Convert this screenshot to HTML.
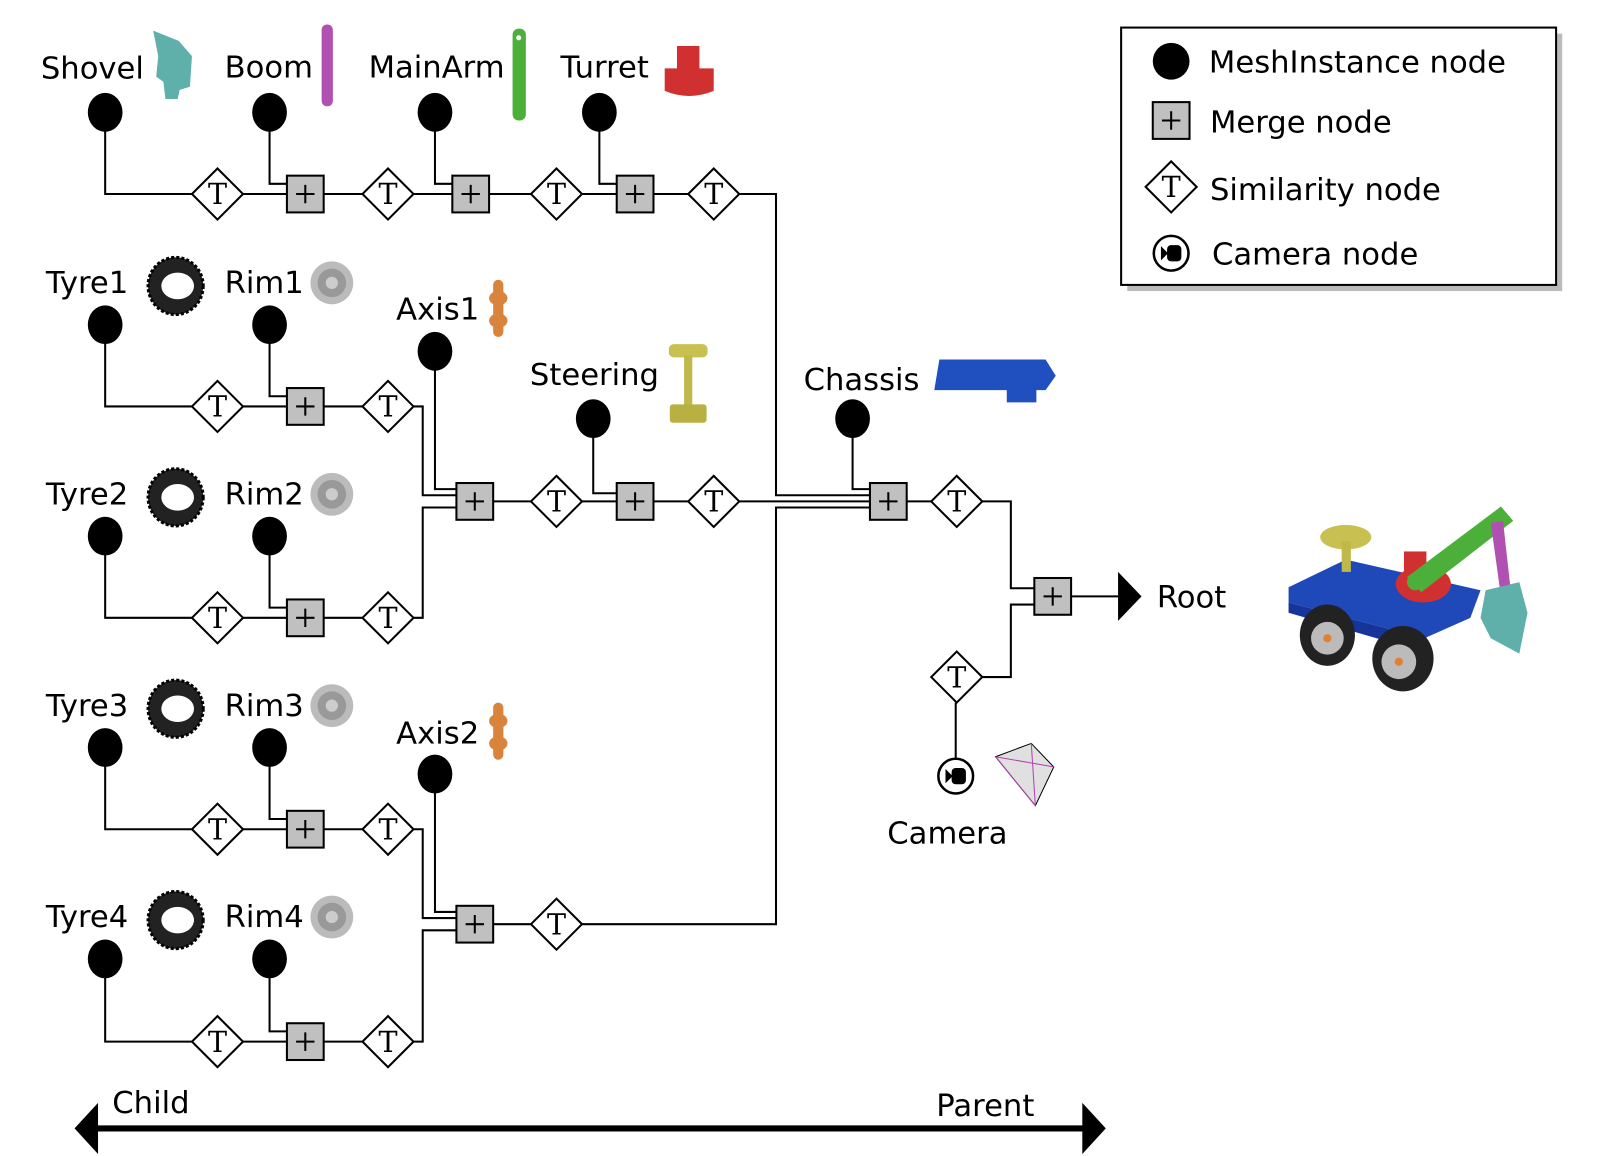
<!DOCTYPE html>
<html><head><meta charset="utf-8"><style>
html,body{margin:0;padding:0;background:#fff;}
svg{display:block;}
.l{fill:none;stroke:#000;stroke-width:2;}
.lab{font-family:"DejaVu Sans","Liberation Sans",sans-serif;font-size:30px;fill:#000;}
.tt{font-family:"DejaVu Serif","Liberation Serif",serif;font-size:28px;text-anchor:middle;}
</style></head><body>
<svg width="1600" height="1156" viewBox="0 0 1567 1132" preserveAspectRatio="none" xmlns="http://www.w3.org/2000/svg">
<defs>
<g id="T"><polygon points="-25,0 0,-25 25,0 0,25" fill="#fff" stroke="#000" stroke-width="2"/><text class="tt" x="0" y="10">T</text></g>
<g id="M"><rect x="-18" y="-18" width="36" height="36" fill="#c0c0c0" stroke="#000" stroke-width="2"/><path d="M-9,0H9M0,-9V9" stroke="#000" stroke-width="2"/></g>
<g id="C"><ellipse cx="0" cy="0" rx="17" ry="19" fill="#000"/></g>
<g id="tyre"><ellipse cx="0" cy="0" rx="27" ry="28" fill="#222" stroke="#000" stroke-width="3" stroke-dasharray="3 2"/><ellipse cx="2" cy="0" rx="16" ry="13" fill="#fff"/></g>
<g id="rim"><circle r="21" fill="#bbb"/><circle r="14" fill="#999"/><circle r="6" fill="#ccc"/></g>
<g id="axis"><rect x="-5" y="-28" width="10" height="56" rx="5" fill="#d9843c"/><ellipse cx="0" cy="-10" rx="9" ry="7" fill="#d9843c"/><ellipse cx="0" cy="12" rx="9" ry="7" fill="#d9843c"/></g>
</defs>
<path class="l" d="M103,110V190H188M238,190H281M264,110V180H281M317,190H355M405,190H443M426,110V180H443M479,190H520M570,190H604M587,110V180H604M640,190H674M724,190H760V485H852"/>
<path class="l" d="M103,318V398H188M238,398H281M264,318V388H281M317,398H355M405,398H414V485H447"/>
<path class="l" d="M103,525V605H188M238,605H281M264,525V595H281M317,605H355M405,605H414V497H447"/>
<path class="l" d="M426,344V479H447M483,491H520M570,491H604M581,410V483H604M640,491H674M724,491H852M835,410V479H852M570,905H760V497H852"/>
<path class="l" d="M103,732V812H188M238,812H281M264,732V802H281M317,812H355M405,812H414V899H447"/>
<path class="l" d="M103,939V1020H188M238,1020H281M264,939V1010H281M317,1020H355M405,1020H414V911H447M426,758V893H447M483,905H520"/>
<path class="l" d="M888,491H912M962,491H990V576H1013M962,663H990V592H1013M936,688V742M1049,584H1095"/>
<polygon points="1095,560 1118,584 1095,608" fill="#000"/>
<use href="#C" x="103" y="110"/><use href="#C" x="264" y="110"/><use href="#C" x="426" y="110"/><use href="#C" x="587" y="110"/>
<use href="#C" x="103" y="318"/><use href="#C" x="264" y="318"/><use href="#C" x="426" y="344"/>
<use href="#C" x="103" y="525"/><use href="#C" x="264" y="525"/>
<use href="#C" x="581" y="410"/><use href="#C" x="835" y="410"/>
<use href="#C" x="103" y="732"/><use href="#C" x="264" y="732"/><use href="#C" x="426" y="758"/>
<use href="#C" x="103" y="939"/><use href="#C" x="264" y="939"/>
<use href="#T" x="213" y="190"/><use href="#T" x="380" y="190"/><use href="#T" x="545" y="190"/><use href="#T" x="699" y="190"/>
<use href="#T" x="213" y="398"/><use href="#T" x="380" y="398"/>
<use href="#T" x="213" y="605"/><use href="#T" x="380" y="605"/>
<use href="#T" x="545" y="491"/><use href="#T" x="699" y="491"/><use href="#T" x="937" y="491"/><use href="#T" x="937" y="663"/>
<use href="#T" x="213" y="812"/><use href="#T" x="380" y="812"/>
<use href="#T" x="213" y="1020"/><use href="#T" x="380" y="1020"/><use href="#T" x="545" y="905"/>
<use href="#M" x="299" y="190"/><use href="#M" x="461" y="190"/><use href="#M" x="622" y="190"/>
<use href="#M" x="299" y="398"/><use href="#M" x="299" y="605"/><use href="#M" x="465" y="491"/><use href="#M" x="622" y="491"/>
<use href="#M" x="870" y="491"/><use href="#M" x="1031" y="584"/>
<use href="#M" x="299" y="812"/><use href="#M" x="299" y="1020"/><use href="#M" x="465" y="905"/>
<circle cx="936" cy="760" r="17" fill="#fff" stroke="#000" stroke-width="2.5"/>
<path d="M926,753L933,760L926,767Z" fill="#000"/><rect x="932" y="752" width="14" height="16" rx="4" fill="#000"/>
<polygon points="975,741 1010,728 1032,751 1014,789" fill="#e0e0e0" stroke="#000" stroke-width="1"/>
<path d="M975,741L1014,789M1010,728L1014,789M975,741L1032,751" stroke="#b040b0" stroke-width="1" fill="none"/>
<text class="lab" x="40" y="77">Shovel</text><text class="lab" x="220" y="76">Boom</text>
<text class="lab" x="361" y="76">MainArm</text><text class="lab" x="549" y="76">Turret</text>
<text class="lab" x="45" y="287">Tyre1</text><text class="lab" x="220" y="287">Rim1</text><text class="lab" x="388" y="313">Axis1</text>
<text class="lab" x="519" y="377">Steering</text><text class="lab" x="787" y="382">Chassis</text>
<text class="lab" x="45" y="494">Tyre2</text><text class="lab" x="220" y="494">Rim2</text>
<text class="lab" x="45" y="701">Tyre3</text><text class="lab" x="220" y="701">Rim3</text><text class="lab" x="388" y="728">Axis2</text>
<text class="lab" x="45" y="908">Tyre4</text><text class="lab" x="220" y="908">Rim4</text>
<text class="lab" x="1133" y="595">Root</text><text class="lab" x="869" y="826">Camera</text>
<text class="lab" x="110" y="1090">Child</text><text class="lab" x="917" y="1093">Parent</text>
<path d="M150,30 L175,40 L188,55 L186,85 L176,88 L174,97 L162,97 L160,80 L153,75 L155,55 Z" fill="#5fb0aa"/>
<rect x="315" y="24" width="11" height="80" rx="5" fill="#b050b0"/>
<rect x="502" y="28" width="13" height="90" rx="6" fill="#4caf3a"/><circle cx="508" cy="37" r="2.5" fill="#fff"/>
<path d="M663,45h22v22h14v22q-24,10 -48,0v-22h12z" fill="#d03030"/>
<use href="#tyre" x="172" y="280"/><use href="#rim" x="325" y="277"/>
<use href="#tyre" x="172" y="487"/><use href="#rim" x="325" y="484"/>
<use href="#tyre" x="172" y="694"/><use href="#rim" x="325" y="691"/>
<use href="#tyre" x="172" y="901"/><use href="#rim" x="325" y="898"/>
<use href="#axis" x="488" y="302"/><use href="#axis" x="488" y="716"/>
<rect x="655" y="337" width="38" height="13" rx="5" fill="#c8c050"/><rect x="670" y="348" width="8" height="52" fill="#c0b848"/><rect x="656" y="396" width="36" height="18" rx="3" fill="#b8b040"/>
<path d="M920,352H1024L1034,368L1024,382H1015V394H986V382H915Z" fill="#2050c0"/>
<polygon points="1262,575 1318,548 1450,578 1440,605 1395,625 1262,590" fill="#1f48b8"/>
<polygon points="1262,590 1395,625 1400,640 1262,600" fill="#16349a"/>
<ellipse cx="1300" cy="622" rx="27" ry="30" fill="#222"/><circle cx="1300" cy="625" r="16" fill="#bbb"/><circle cx="1300" cy="625" r="4" fill="#e08030"/>
<ellipse cx="1374" cy="645" rx="30" ry="32" fill="#222"/><circle cx="1370" cy="648" r="17" fill="#bbb"/><circle cx="1370" cy="648" r="4" fill="#e08030"/>
<ellipse cx="1318" cy="526" rx="25" ry="12" fill="#c8c050"/><rect x="1314" y="530" width="9" height="30" fill="#c0b848"/>
<ellipse cx="1394" cy="572" rx="27" ry="18" fill="#d03030"/><rect x="1375" y="540" width="22" height="30" fill="#d03030"/>
<polygon points="1378,565 1470,496 1482,510 1392,580" fill="#4caf3a"/><circle cx="1386" cy="570" r="8" fill="#4caf3a"/>
<polygon points="1460,512 1472,510 1480,582 1470,584" fill="#b050b0"/>
<path d="M1455,578L1488,570L1496,600L1488,640L1460,625L1450,605Z" fill="#5fb0aa"/>
<rect x="1104" y="33" width="426" height="252" fill="#bbb"/>
<rect x="1098" y="27" width="426" height="252" fill="#fff" stroke="#000" stroke-width="2"/>
<circle cx="1147" cy="60" r="18" fill="#000"/>
<use href="#M" x="1147" y="118"/>
<use href="#T" x="1147" y="183"/>
<circle cx="1147" cy="248" r="17" fill="#fff" stroke="#000" stroke-width="2.5"/>
<path d="M1137,241L1144,248L1137,255Z" fill="#000"/><rect x="1143" y="240" width="14" height="16" rx="4" fill="#000"/>
<text class="lab" x="1184" y="71">MeshInstance node</text>
<text class="lab" x="1185" y="130">Merge node</text>
<text class="lab" x="1185" y="196">Similarity node</text>
<text class="lab" x="1187" y="259">Camera node</text>
<path d="M90,1105H1065" stroke="#000" stroke-width="6"/>
<polygon points="73,1105 96,1080 96,1130" fill="#000"/>
<polygon points="1083,1105 1060,1080 1060,1130" fill="#000"/>
</svg>
</body></html>
